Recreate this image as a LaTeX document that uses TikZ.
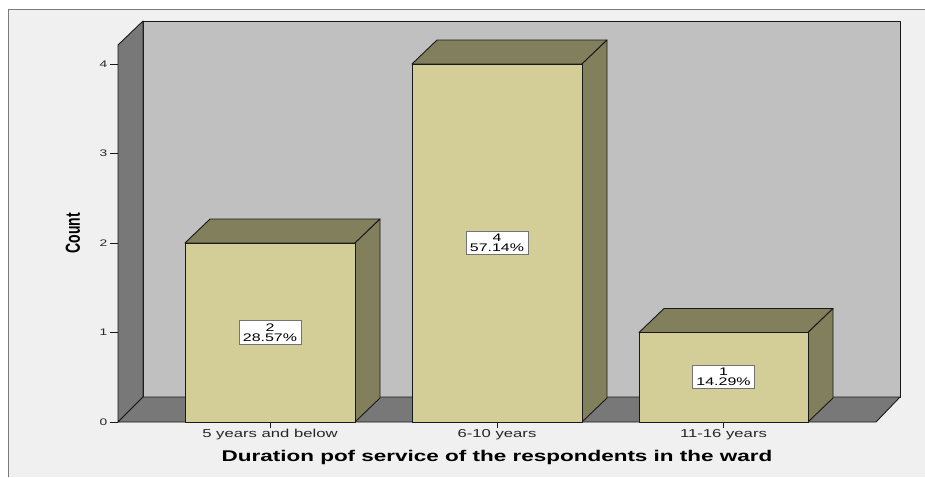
\documentclass[tikz,border=0pt]{standalone}
\usepackage{fontspec}
\setmainfont{Liberation Sans}
\definecolor{panelbg}{HTML}{F0F0F0}
\definecolor{panelrule}{HTML}{7A7A7A}
\definecolor{wallback}{HTML}{C0C0C0}
\definecolor{wallside}{HTML}{787878}
\definecolor{barface}{HTML}{D3CE97}
\definecolor{barshade}{HTML}{817F5C}
\definecolor{labelink}{HTML}{262626}
\tikzstyle{edge}=[draw=black!90, line width=0.9pt, line join=round]
\tikzstyle{barfront}=[edge, fill=barface]
\tikzstyle{barside}=[edge, fill=barshade]
\tikzstyle{valbox}=[draw=black!55, fill=white, line width=0.8pt, inner xsep=4pt, inner ysep=3pt, align=center, font=\fontsize{11}{10}\selectfont]
\tikzstyle{ticklabel}=[text=labelink, inner sep=1pt, font=\fontsize{9.5}{9.5}\selectfont]
\tikzstyle{catlabel}=[text=labelink, inner sep=0pt, font=\fontsize{11.5}{11.5}\selectfont]
\newcommand{\wide}[1]{\scalebox{1.45}[1]{#1}}

\begin{document}
\begin{tikzpicture}[x=1pt,y=-1pt]
		\useasboundingbox (0,0) rectangle (925,477);
		% panel
		\fill[panelbg] (8,9) rectangle (925,477);
		\draw[panelrule, line width=1.5pt] (8.5,477) -- (8.5,9.5) -- (925,9.5);
		% walls and floor
		\coordinate (O) at (118,422);
		\coordinate (Otop) at (118,45);
		\coordinate (B) at (143,397);
		\coordinate (Btop) at (143,21);
		\coordinate (Bend) at (900,397);
		\coordinate (Oend) at (876,422);
		\filldraw[edge, fill=wallback] (B) rectangle (900,21);
		\filldraw[edge, fill=wallside] (Otop) -- (Btop) -- (B) -- (O) -- cycle;
		\filldraw[edge, fill=wallside] (O) -- (B) -- (Bend) -- (Oend) -- cycle;
		% y ticks
		\foreach \v in {0,...,4} {
			\draw[edge, line width=0.8pt] (110,{422-89.5*\v}) -- (118,{422-89.5*\v});
			\node[ticklabel, anchor=east] (ytick\v) at (108.5,{422-89.5*\v}) {\wide{\v}};
		}
		% bar 1
		\filldraw[barside] (185,243) -- ++(25,-24) -- ++(170,0) -- (355,243) -- cycle;
		\filldraw[barside] (355,243) -- ++(25,-24) -- ++(0,179) -- (355,422) -- cycle;
		\filldraw[barfront] (185,422) rectangle (355,243);
		% bar 2
		\filldraw[barside] (412,64) -- ++(25,-24) -- ++(170,0) -- (582,64) -- cycle;
		\filldraw[barside] (582,64) -- ++(25,-24) -- ++(0,358) -- (582,422) -- cycle;
		\filldraw[barfront] (412,422) rectangle (582,64);
		% bar 3
		\filldraw[barside] (639,332.5) -- ++(25,-24) -- ++(169,0) -- (808,332.5) -- cycle;
		\filldraw[barside] (808,332.5) -- ++(25,-24) -- ++(0,89.5) -- (808,422) -- cycle;
		\filldraw[barfront] (639,422) rectangle (808,332.5);
		% value boxes
		\node[valbox] (val1) at (270,332.5) {\wide{2}\\\wide{28.57\%}};
		\node[valbox] (val2) at (497,243) {\wide{4}\\\wide{57.14\%}};
		\node[valbox] (val3) at (723.5,377) {\wide{1}\\\wide{14.29\%}};
		% categories
		\draw[edge, line width=0.8pt] (270,422) -- (270,428);
		\draw[edge, line width=0.8pt] (497,422) -- (497,428);
		\draw[edge, line width=0.8pt] (723.5,422) -- (723.5,428);
		\node[catlabel] (cat1) at (270,435) {\wide{5 years and below}};
		\node[catlabel] (cat2) at (497,435) {\wide{6-10 years}};
		\node[catlabel] (cat3) at (723.5,435) {\wide{11-16 years}};
		% axis titles
		\node[font=\bfseries\fontsize{15.5}{15.5}\selectfont] (xtitle) at (497,457) {\wide{Duration pof service of the respondents in the ward}};
		\node[font=\bfseries\fontsize{14}{14}\selectfont] (ytitle) at (73,233) {\wide{\rotatebox{90}{Count}}};
\end{tikzpicture}
\end{document}
